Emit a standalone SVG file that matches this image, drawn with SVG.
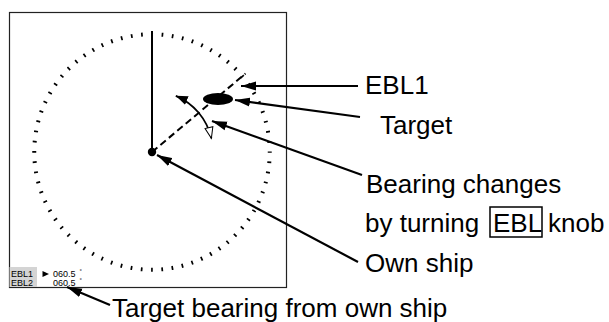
<svg xmlns="http://www.w3.org/2000/svg" width="609" height="322" viewBox="0 0 609 322">
<style>
.lbl{font-family:"Liberation Sans",Arial,sans-serif;font-size:26px;fill:#000}
.small{font-family:"Liberation Sans",Arial,sans-serif;font-size:9px;fill:#000}
.lead{stroke:#000;stroke-width:2.2;fill:none;marker-end:url(#ah)}
</style>
<defs>
<marker id="ah" markerUnits="userSpaceOnUse" markerWidth="16" markerHeight="10" refX="15" refY="5" orient="auto">
<path d="M0,0.5 L15,5 L0,9.5 z" fill="#000"/>
</marker>
<marker id="ahs" markerUnits="userSpaceOnUse" markerWidth="13" markerHeight="11" refX="12" refY="5" orient="auto-start-reverse">
<path d="M0,0.5 L12,5 L0,9.5 z" fill="#000"/>
</marker>
<marker id="aho" markerUnits="userSpaceOnUse" markerWidth="14" markerHeight="12" refX="12" refY="5" orient="auto">
<path d="M1,1 L12,5 L1,9 z" fill="#fff" stroke="#000" stroke-width="1"/>
</marker>
</defs>
<rect width="609" height="322" fill="#fff"/>
<g id="radar">
<rect x="9.5" y="12.5" width="277" height="275" fill="#fff" stroke="#222" stroke-width="1.2"/>
<circle cx="152" cy="152" r="117.75" fill="none" stroke="#000" stroke-width="4" stroke-dasharray="1.7 8.575" stroke-dashoffset="0.85"/>
<line x1="152" y1="152" x2="152" y2="31" stroke="#000" stroke-width="2"/>
</g>
<g id="ebl1-line">
<line x1="152" y1="152" x2="245.5" y2="73.6" stroke="#000" stroke-width="2" stroke-dasharray="7 4"/>
</g>
<g id="target">
<ellipse cx="218" cy="99" rx="15" ry="6" fill="#000"/>
</g>
<g id="own-ship">
<circle cx="152" cy="152" r="4.2" fill="#000"/>
</g>
<g id="rotation-arrow">
<path d="M175.8,95.8 A61,61 0 0 1 211.4,138.3" fill="none" stroke="#000" stroke-width="1.8" marker-start="url(#ahs)" marker-end="url(#aho)"/>
</g>
<g id="readout">
<rect x="9.5" y="267" width="27.5" height="20" fill="#d4d4d4"/>
<text class="small" x="11" y="277">EBL1</text>
<text class="small" x="11" y="286">EBL2</text>
<polygon points="42.5,271 49,274 42.5,277" fill="#000"/>
<text class="small" x="53" y="277">060.5</text>
<text class="small" x="53" y="286">060.5</text>
<text class="small" x="79.5" y="273" style="font-size:6px">°</text>
<text class="small" x="79.5" y="282" style="font-size:6px">°</text>
</g>
<g id="connectors">
<line class="lead" x1="358" y1="86" x2="241" y2="86"/>
<line class="lead" x1="360" y1="117" x2="235" y2="100"/>
<line class="lead" x1="362" y1="175" x2="212" y2="121"/>
<line class="lead" x1="358" y1="262" x2="157" y2="155"/>
<line class="lead" x1="110" y1="305" x2="67" y2="287"/>
</g>
<g id="labels">
<text class="lbl" x="365" y="94">EBL1</text>
<text class="lbl" x="380" y="134">Target</text>
<text class="lbl" x="366" y="193">Bearing changes</text>
<text class="lbl" x="365" y="232">by turning</text>
<rect x="490" y="207" width="52" height="30" fill="none" stroke="#000" stroke-width="1.5"/>
<text class="lbl" x="493" y="232">EBL</text>
<text class="lbl" x="548" y="232">knob</text>
<text class="lbl" x="365" y="272">Own ship</text>
<text class="lbl" x="112" y="317">Target bearing from own ship</text>
</g>
</svg>
